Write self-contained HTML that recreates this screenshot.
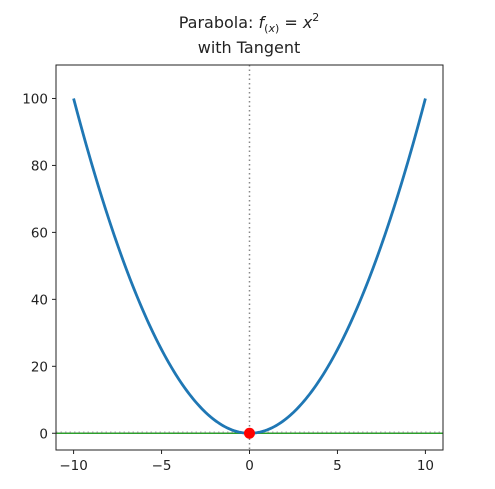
<!DOCTYPE html>
<html><head><meta charset="utf-8"><style>
body{margin:0;background:#fff;}
svg{display:block;font-family:"DejaVu Sans","Liberation Sans",sans-serif;}
</style></head><body>
<svg id="chart" width="495" height="489">
<text x="249" y="28" text-anchor="middle" font-size="16" fill="#222">Parabola: <tspan font-style="italic">f</tspan><tspan font-size="11" dy="4">(<tspan font-style="italic">x</tspan>)</tspan><tspan dy="-4"> = </tspan><tspan font-style="italic">x</tspan><tspan font-size="11" dy="-7">2</tspan></text>
<text x="249" y="53" text-anchor="middle" font-size="16" fill="#222">with Tangent</text>
<g id="plot"></g>
</svg>
<script>
const xTicks=[-10,-5,0,5,10];
const yTicks=[0,20,40,60,80,100];
const xDomain=[-11,11];
const yDomain=[-5,110];
const curveX=[];for(let i=0;i<=200;i++)curveX.push(-10+i*0.1);
const pointX=[0];
const pointY=[0];
const tangentSlope=[0];
const L=56,R=443,T=65,B=450;
const sx=v=>L+(v-xDomain[0])/(xDomain[1]-xDomain[0])*(R-L);
const sy=v=>B-(v-yDomain[0])/(yDomain[1]-yDomain[0])*(B-T);
const g=document.getElementById('plot');const NS='http://www.w3.org/2000/svg';
function mk(t,a){const e=document.createElementNS(NS,t);for(const k in a)e.setAttribute(k,a[k]);g.appendChild(e);return e;}
let e;
e=mk('line',{x1:sx(pointX[0]),x2:sx(pointX[0]),y1:T,y2:B,stroke:'#888','stroke-width':1.5,'stroke-dasharray':'1.5,3'});


const ty=x=>pointY[0]+tangentSlope[0]*(x-pointX[0]);
e=mk('line',{x1:L,x2:R,y1:sy(ty(xDomain[0])),y2:sy(ty(xDomain[1])),stroke:'#2ca02c','stroke-width':1.5});


e=mk('line',{x1:L,x2:R,y1:sy(pointY[0])-1,y2:sy(pointY[0])-1,stroke:'#999','stroke-width':1.2,'stroke-dasharray':'1.5,3'});


e=mk('path',{d:curveX.map((x,i)=>(i?'L':'M')+sx(x).toFixed(2)+','+sy(x*x).toFixed(2)).join(''),fill:'none',stroke:'#1f77b4','stroke-width':2.8});


e=mk('circle',{cx:sx(pointX[0]),cy:sy(pointY[0]),r:5.5,fill:'#ff0000'});


e=mk('rect',{x:L,y:T,width:R-L,height:B-T,fill:'none',stroke:'#222','stroke-width':1});


xTicks.forEach(v=>{const x=sx(v);
 let t=mk('line',{x1:x,x2:x,y1:B,y2:B+4,stroke:'#222'});
 
 
 let l=mk('text',{x:x,y:B+20,'text-anchor':'middle','font-size':13.5,fill:'#222'});l.textContent=v<0?'\u2212'+(-v):v;
 
 });
yTicks.forEach(v=>{const y=sy(v);
 let t=mk('line',{x1:L-4,x2:L,y1:y,y2:y,stroke:'#222'});
 
 
 let l=mk('text',{x:L-8,y:y+5,'text-anchor':'end','font-size':13.5,fill:'#222'});l.textContent=v;
 
 });
</script>
</body></html>
